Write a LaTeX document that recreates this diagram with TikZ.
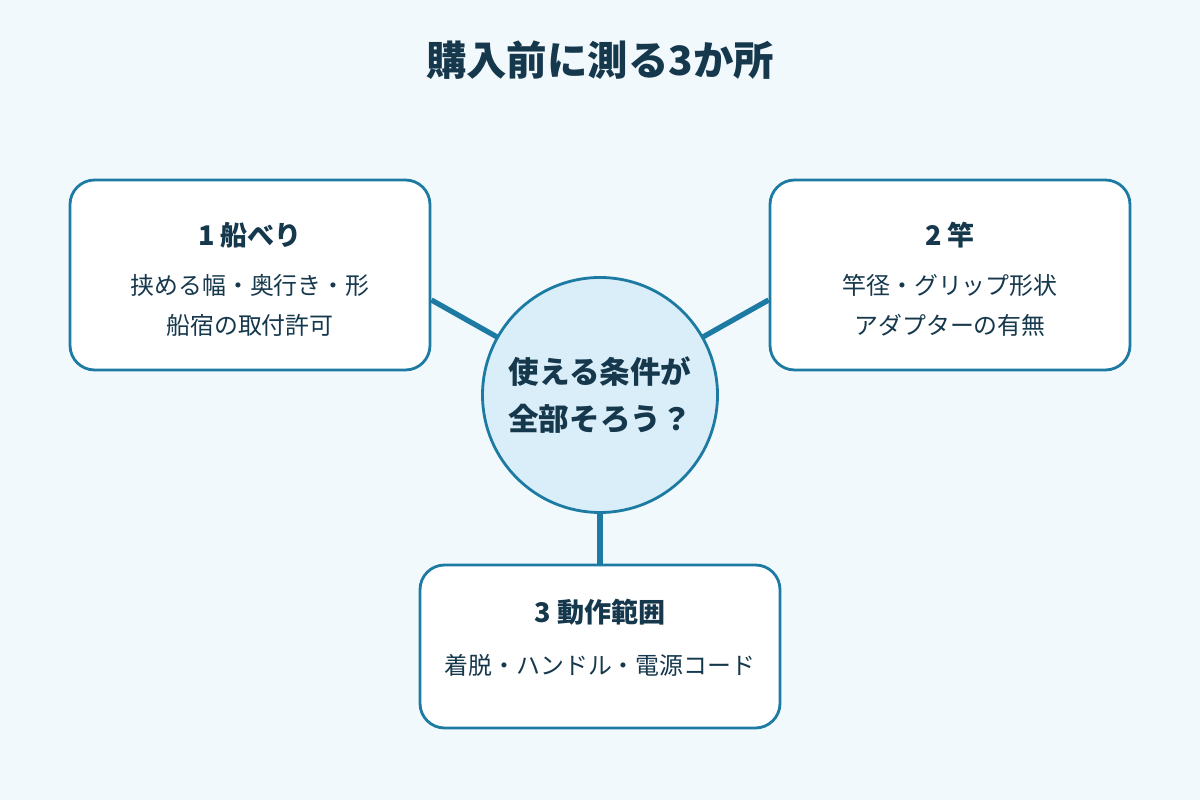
\documentclass[tikz,border=0pt]{standalone}
\usepackage{fontspec}
\setmainfont{Noto Sans CJK JP}
\usetikzlibrary{calc,positioning}
\definecolor{bgcol}{HTML}{F2F9FC}
\definecolor{edgecol}{HTML}{1D7BA3}
\definecolor{inkcol}{HTML}{16384D}
\definecolor{circcol}{HTML}{DAEEF9}
\tikzset{
  box/.style={draw=edgecol, line width=1.6pt, fill=white, rounded corners=14pt,
    minimum width=7.2cm, text=inkcol},
  link/.style={draw=edgecol, line width=3pt},
  head/.style={font=\bfseries\fontsize{15.4}{18}\selectfont, text=inkcol},
  body/.style={font=\fontsize{13.6}{22.8}\selectfont, text=inkcol, align=center}
}
\begin{document}
\begin{tikzpicture}
  \fill[bgcol] (0,0) rectangle (24,16);
  \useasboundingbox (0,0) rectangle (24,16);

  \node[font=\bfseries\fontsize{23}{26}\selectfont, text=inkcol] (title) at (12,14.8) {購入前に測る3か所};

  % boxes
  \node[box, minimum height=3.8cm] (b1) at (5,10.5) {};
  \node[box, minimum height=3.8cm] (b2) at (19,10.5) {};
  \node[box, minimum height=3.26cm] (b3) at (12,3.07) {};

  \node[head] (h1) at (5,11.3) {1 船べり};
  \node[body] (t1) at (5,9.9) {挟める幅・奥行き・形\\船宿の取付許可};
  \node[head] (h2) at (19,11.3) {2 竿};
  \node[body] (t2) at (19,9.9) {竿径・グリップ形状\\アダプターの有無};
  \node[head] (h3) at (12,3.76) {3 動作範囲};
  \node[body] (t3) at (12,2.7) {着脱・ハンドル・電源コード};

  % links
  \coordinate (c0) at (12,8.1);
  \draw[link] ($(b1.east)+(0,-0.5)$) -- (c0);
  \draw[link] ($(b2.west)+(0,-0.5)$) -- (c0);
  \draw[link] (b3.north) -- (c0);

  \node[circle, draw=edgecol, line width=1.6pt, fill=circcol, minimum size=4.7cm,
    font=\bfseries\fontsize{17.4}{27}\selectfont, text=inkcol, align=center] (core) at (c0)
    {使える条件が\\全部そろう？};
\end{tikzpicture}
\end{document}
